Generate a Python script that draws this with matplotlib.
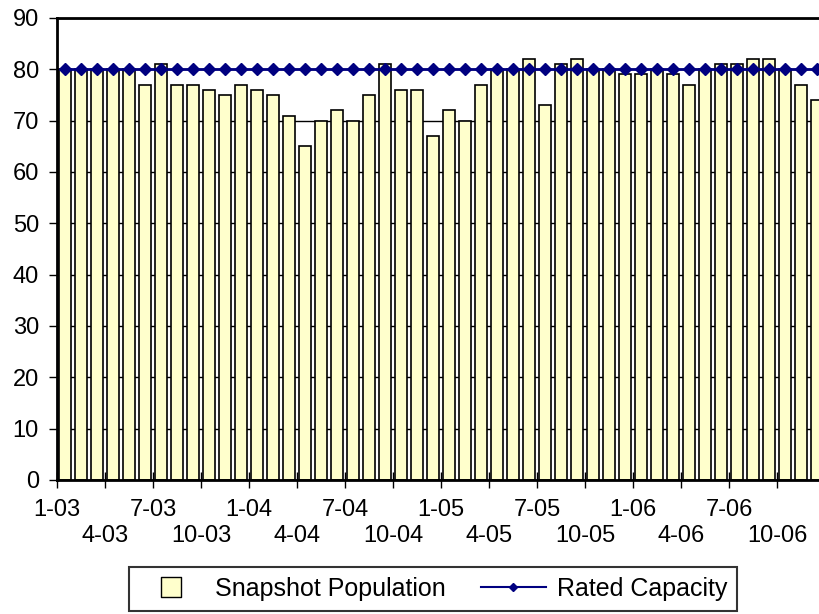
import numpy as np
import matplotlib
matplotlib.use('Agg')
import matplotlib.pyplot as plt
from matplotlib.path import Path
from matplotlib.lines import Line2D

plt.rcParams['font.family'] = ['Liberation Sans', 'DejaVu Sans']

# monthly snapshot population, 1-03 .. 12-06
population = [80, 80, 80, 80, 80, 77, 81, 77, 77, 76, 75, 77,
              76, 75, 71, 65, 70, 72, 70, 75, 81, 76, 76, 67,
              72, 70, 77, 80, 80, 82, 73, 81, 82, 80, 80, 79,
              79, 80, 79, 77, 80, 81, 81, 82, 82, 80, 77, 74]
capacity = [80] * 48
tick_labels = ['1-03', '4-03', '7-03', '10-03', '1-04', '4-04', '7-04', '10-04',
               '1-05', '4-05', '7-05', '10-05', '1-06', '4-06', '7-06', '10-06']

W, H = 820, 614
fig = plt.figure(figsize=(W / 100, H / 100), dpi=100)
# plot area runs past the right edge of the picture, as in the original
ax = fig.add_axes([57 / W, (H - 480) / H, 768 / W, 462 / H])

x = np.arange(len(population)) + 0.5
ax.bar(x, population, width=0.75, color='#FFFFCC', edgecolor='black', linewidth=1.2, zorder=2)
ax.plot(x, capacity, color='#000080', linewidth=2, marker='D', markersize=6,
        markerfacecolor='#000080', markeredgecolor='#000080', zorder=3)

ax.set_xlim(0, 48)
ax.set_ylim(0, 90)
ax.set_yticks(range(0, 91, 10))
ax.yaxis.grid(True, color='black', linewidth=1, zorder=0)
ax.set_axisbelow(True)

# labels alternate between two rows: upper row on major ticks, lower row on minor ticks
ax.set_xticks(range(0, 48, 6))
ax.set_xticklabels(tick_labels[0::2], fontsize=17)
ax.set_xticks(range(3, 48, 6), minor=True)
ax.set_xticklabels(tick_labels[1::2], minor=True, fontsize=17)
ax.tick_params(axis='y', labelsize=17, direction='out', length=6, width=1, pad=7)
ax.tick_params(axis='x', which='both', direction='inout', length=11, width=1)
ax.tick_params(axis='x', which='major', pad=8)
ax.tick_params(axis='x', which='minor', pad=27)

for s in ['left', 'bottom', 'top']:
    ax.spines[s].set_linewidth(2)
ax.spines['right'].set_visible(False)

square = Path([(-1, -1), (1, -1), (1, 1), (-1, 1), (-1, -1)],
              [Path.MOVETO, Path.LINETO, Path.LINETO, Path.LINETO, Path.CLOSEPOLY])
handles = [Line2D([], [], linestyle='none', marker=square, markersize=15,
                  markerfacecolor='#FFFFCC', markeredgecolor='black', markeredgewidth=1),
           Line2D([], [], color='#000080', linewidth=1.5, marker='D', markersize=4.5)]
leg = fig.legend(handles, ['Snapshot Population', 'Rated Capacity'], loc='center',
                 bbox_to_anchor=(433 / W, 1 - 589 / H), ncol=2, fontsize=18,
                 frameon=True, fancybox=False, edgecolor='black', handlelength=2.6,
                 handletextpad=0.45, columnspacing=1.4, borderpad=0.4)
leg.get_frame().set_linewidth(1.5)

fig.savefig('out.png', dpi=100)
